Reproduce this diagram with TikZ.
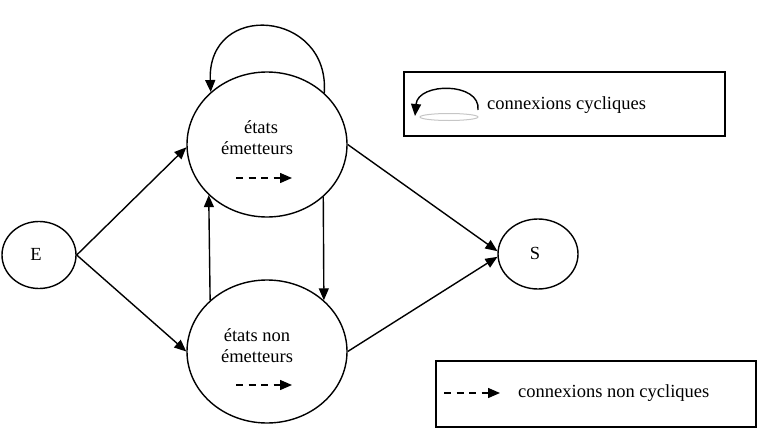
\documentclass[tikz,border=0pt]{standalone}
\usepackage{fontspec}
\setmainfont{Liberation Serif}
\usetikzlibrary{shapes.geometric,arrows.meta}
\begin{document}
\begin{tikzpicture}[x=1pt,y=-1pt,
  state/.style={draw,ellipse,line width=1.4pt,inner sep=0pt},
  lbl/.style={font=\fontsize{18.5}{22}\selectfont\rmfamily,inner sep=0pt},
  arr/.style={line width=1.4pt,-{Triangle[length=12pt,width=10pt]}},
  darr/.style={line width=1.4pt,dash pattern=on 7pt off 5.5pt,-{Triangle[length=12pt,width=10pt]}},
  legbox/.style={draw,line width=1.1pt,inner sep=0pt}]
\useasboundingbox (0,0) rectangle (765,431);
% states
\node[state,minimum width=74pt,minimum height=67pt] (E) at (39,255) {};
\node[lbl] (Et) at (36,254) {E};
\node[state,minimum width=80pt,minimum height=70pt] (S) at (538,254) {};
\node[lbl] (St) at (535,253) {S};
\node[state,minimum width=160pt,minimum height=145pt] (top) at (267,144.5) {};
\node[state,minimum width=160pt,minimum height=143pt] (bot) at (267,351.5) {};
% texts
\node[lbl] (t1) at (261,127) {états};
\node[lbl] (t2) at (257,148) {émetteurs};
\node[lbl] (b1) at (257,335) {états non};
\node[lbl] (b2) at (257,356) {émetteurs};
% inner dashed arrows
\coordinate (da1) at (236,178); \coordinate (da2) at (292,178);
\coordinate (db1) at (236,385); \coordinate (db2) at (292,385);
\draw[darr] (da1) -- (da2);
\draw[darr] (db1) -- (db2);
% connectors
\draw[arr] (E.east) -- (top.182);
\draw[arr] (E.east) -- (bot.west);
\draw[arr] (top.east) -- (S.176);
\draw[arr] (bot.east) -- (S.184);
\draw[arr] (bot.138.5) -- (top.221.5);
\draw[arr] (top.317.5) -- (bot.42.5);
\draw[arr] (top.42.5) .. controls (330,10) and (207,0) .. (top.137.5);
% legend 1
\node[legbox,minimum width=321pt,minimum height=64pt] (L1) at (564.5,104) {};
\draw[gray!45,line width=1pt] (449,117) ellipse (29pt and 3.5pt);
\coordinate (l1a) at (478,110); \coordinate (l1b) at (415,116);
\draw[arr] (l1a) .. controls (481,82) and (418,82) .. (l1b);
\node[lbl,anchor=west] (L1t) at (487,105) {connexions cycliques};
% legend 2
\node[legbox,minimum width=320pt,minimum height=66pt] (L2) at (596,394) {};
\coordinate (l2a) at (444,393); \coordinate (l2b) at (500,393);
\draw[darr] (l2a) -- (l2b);
\node[lbl,anchor=west] (L2t) at (518,393) {connexions non cycliques};
\end{tikzpicture}
\end{document}
